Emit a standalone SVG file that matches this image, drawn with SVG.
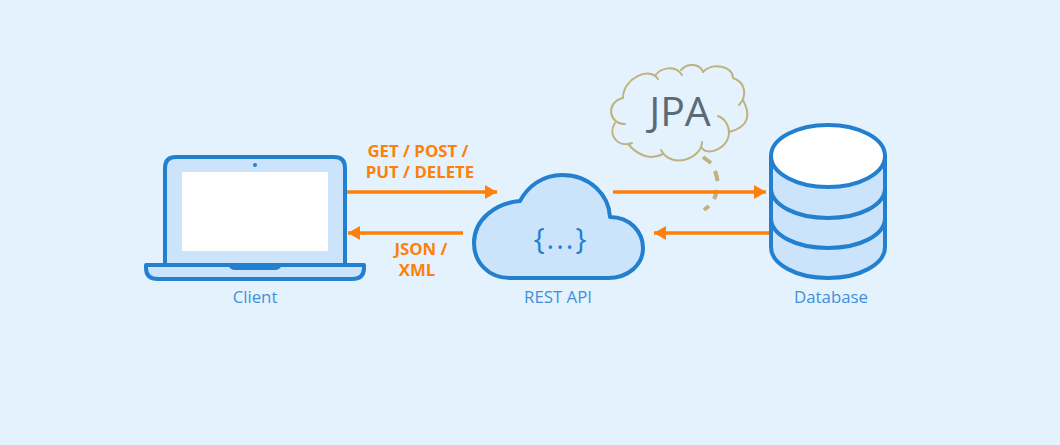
<svg xmlns="http://www.w3.org/2000/svg" width="1060" height="445" viewBox="0 0 1060 445">
  <defs>
    <style>
      .ln{stroke:#2280cf;stroke-width:4;stroke-linejoin:round;stroke-linecap:round}
      .fl{fill:#cbe4fc}
      .lab{font-family:"Open Sans","Noto Sans",sans-serif;font-size:16.8px;fill:#3f90d8;text-anchor:middle}
      .req{font-family:"Open Sans","Noto Sans",sans-serif;font-size:16.8px;font-weight:700;fill:#ff8008;text-anchor:middle}
      .arr{fill:none;stroke:#ff8008;stroke-width:3.5;marker-end:url(#ah)}
      .jp{fill:none;stroke:#bfb27f;stroke-width:2;stroke-linecap:round}
    </style>
    <marker id="ah" markerUnits="userSpaceOnUse" markerWidth="16" markerHeight="16" refX="13" refY="8" orient="auto">
      <path d="M1 1 L13 8 L1 15 Z" fill="#ff8008"/>
    </marker>
  </defs>
  <rect width="1060" height="445" fill="#e4f2fe"/>

  <g id="jpa">
    <path class="jp" d="M623 98 C623 78 650 66 658 79 M655 76 C660 68 675 64 682 75 M681 70 C688 62 700 64 703 72 M703 72 C712 62 733 66 733 78 M733 78 C745 82 748 95 739 105 M743 100 C751 115 749 127 729 132 M718 116 C733 122 734 145 713 151 C708 152 704 151 702 148 M702 142 C702 158 672 170 661 150 M663 154 C648 162 635 152 628 144 M632 143 C618 148 607 135 615 123 M625 124 C610 125 604 103 623 98"/>
    <text x="680" y="126" font-family="'Open Sans','Noto Sans',sans-serif" font-size="41" fill="#5a6b76" text-anchor="middle">JPA</text>
  </g>

  <g id="connectors">
    <path d="M703 157 L711 163 M715 171 Q717 176 717.5 181 M717 190 Q716 195 714 199 M709 206 L704 210" fill="none" stroke="#bfb27f" stroke-width="4"/>
    <path class="arr" d="M346 192 H497"/>
    <path class="arr" d="M463 233 H348"/>
    <path class="arr" d="M613 192 H766"/>
    <path class="arr" d="M770 233 H654"/>
  </g>

  <g id="client">
    <path class="ln fl" d="M165 265 V168 Q165 157 176 157 H334 Q345 157 345 168 V265 Z"/>
    <rect x="182" y="172" width="146" height="79" fill="#fff"/>
    <circle cx="255" cy="165" r="2" fill="#2280cf"/>
    <path class="ln fl" d="M146 265 H364 V268 Q364 279 352 279 H158 Q146 279 146 268 Z"/>
    <path d="M228 265 H282 Q280 270 275 270 H235 Q230 270 228 265 Z" fill="#2280cf"/>
    <text class="lab" x="255" y="303">Client</text>
  </g>

  <g id="rest-api">
    <path class="ln fl" d="M520 201 C528 186 543 175 562 175 C590 175 609 195 610 217 C630 217 643 232 643 248 C643 265 628 278 608 278 H510 C488 278 474 262 474 243 C474 220 495 203 520 201 Z"/>
    <text x="561" y="249" font-family="'Open Sans','Noto Sans',sans-serif" font-size="29" letter-spacing="2" fill="#2280cf" text-anchor="middle">{...}</text>
    <text class="lab" x="558" y="303">REST API</text>
  </g>

  <g id="database">
    <path class="ln fl" d="M771 156 V247 C771 264 796 278 828 278 C860 278 885 264 885 247 V156 Z"/>
    <path class="ln" fill="none" d="M771 188 C771 205 796 218 828 218 C860 218 885 205 885 188 M771 218 C771 235 796 248 828 248 C860 248 885 235 885 218"/>
    <ellipse class="ln" cx="828" cy="156" rx="57" ry="31" fill="#fff"/>
    <text class="lab" x="831" y="303">Database</text>
  </g>

  <g id="labels">
    <text class="req" x="418" y="157">GET / POST /</text>
    <text class="req" x="420" y="178">PUT / DELETE</text>
    <text class="req" x="421" y="255">JSON /</text>
    <text class="req" x="417" y="276">XML</text>
  </g>
</svg>
